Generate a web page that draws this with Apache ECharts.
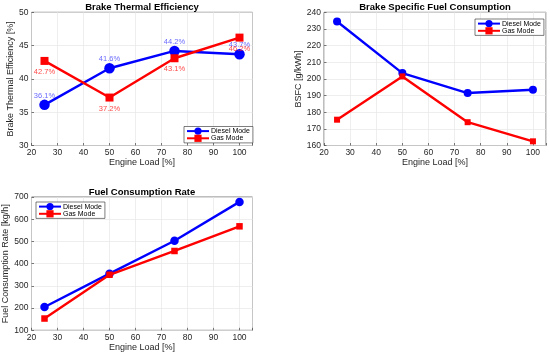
<!DOCTYPE html>
<html><head><meta charset="utf-8">
<script src="https://cdn.jsdelivr.net/npm/echarts@6/dist/echarts.min.js"></script>
<style>html,body{margin:0;padding:0;background:#fff}#c{width:550px;height:354px}</style>
</head><body><div id="c"></div>
<script>
const engineLoad = [25, 50, 75, 100];
const bteDiesel = [36.1, 41.6, 44.2, 43.7];
const bteGas = [42.7, 37.2, 43.1, 46.2];
const bsfcDiesel = [234.5, 203.5, 191.5, 193.5];
const bsfcGas = [175.5, 201.5, 174.0, 162.5];
const fcrDiesel = [205, 355, 503, 678];
const fcrGas = [153, 350, 457, 568];
const titles = ['Brake Thermal Efficiency', 'Brake Specific Fuel Consumption', 'Fuel Consumption Rate'];
const yNames = ['Brake Thermal Efficiency [%]', 'BSFC [g/kWh]', 'Fuel Consumption Rate [kg/h]'];
const xName = 'Engine Load [%]';
const seriesNames = ['Diesel Mode', 'Gas Mode'];

const FONT = 'Liberation Sans, Arial, sans-serif';
const AX = '#262626';
const grids = [
  {left: 31.5, top: 12.3, width: 221, height: 133.2},
  {left: 324, top: 12.3, width: 222, height: 133.2},
  {left: 31.5, top: 197, width: 221, height: 133.3}
];
const yCfg = [
  {min: 30, max: 50, interval: 5, gap: 15},
  {min: 160, max: 240, interval: 10, gap: 18},
  {min: 100, max: 700, interval: 100, gap: 17}
];
const pair = (xs, ys) => xs.map((x, i) => [x, ys[i]]);

const option = {
  animation: false,
  backgroundColor: '#fff',
  textStyle: {fontFamily: FONT},
  title: titles.map((t, i) => ({
    text: t,
    left: grids[i].left + grids[i].width / 2,
    top: grids[i].top - 10,
    padding: 0,
    textAlign: 'center',
    textStyle: {fontSize: 9.5, fontWeight: 'bold', color: '#000', fontFamily: FONT}
  })),
  grid: grids.map(g => Object.assign({show: true, borderColor: '#5a5a5a', borderWidth: 0.8, backgroundColor: '#fff'}, g)),
  xAxis: grids.map((g, i) => ({
    type: 'value', gridIndex: i, min: 20, max: 105, interval: 10,
    name: xName, nameLocation: 'middle', nameGap: 12.5,
    nameTextStyle: {fontSize: 9, color: AX, fontFamily: FONT},
    axisLine: {show: false},
    axisTick: {show: true, inside: true, length: 2.5, lineStyle: {color: AX, width: 0.6}},
    axisLabel: {fontSize: 8.5, color: AX, margin: 3, fontFamily: FONT,
      formatter: v => (v % 10 === 0 && v <= 100) ? String(v) : ''},
    splitLine: {show: true, lineStyle: {color: '#e6e6e6', width: 0.7}}
  })),
  yAxis: grids.map((g, i) => ({
    type: 'value', gridIndex: i, min: yCfg[i].min, max: yCfg[i].max, interval: yCfg[i].interval,
    name: yNames[i], nameLocation: 'middle', nameGap: yCfg[i].gap,
    nameTextStyle: {fontSize: 9, color: AX, fontFamily: FONT},
    axisLine: {show: false},
    axisTick: {show: true, inside: true, length: 2.5, lineStyle: {color: AX, width: 0.6}},
    axisLabel: {fontSize: 8.5, color: AX, margin: 3, fontFamily: FONT},
    splitLine: {show: true, lineStyle: {color: '#e6e6e6', width: 0.7}}
  })),
  legend: [
    {left: 184, top: 126.5},
    {left: 475, top: 19},
    {left: 36, top: 202}
  ].map((p, i) => Object.assign({
    orient: 'vertical', data: seriesNames.map(n => n + (i ? '#' + i : '')),
    formatter: n => n.split('#')[0],
    itemWidth: 22, itemHeight: 9, itemGap: 0, padding: [1, 3, 1, 2],
    backgroundColor: '#fff', borderColor: '#262626', borderWidth: 0.6,
    textStyle: {fontSize: 7, color: '#000', fontFamily: FONT, padding: [0, 0, 0, -3]}
  }, p)),
  series: []
};

const sets = [[bteDiesel, bteGas], [bsfcDiesel, bsfcGas], [fcrDiesel, fcrGas]];
const sym = [[10.5, 8], [8, 6], [8.5, 6.5]];
sets.forEach((s, i) => {
  s.forEach((vals, j) => {
    const color = j === 0 ? '#0000ff' : '#ff0000';
    const ser = {
      type: 'line', name: seriesNames[j] + (i ? '#' + i : ''),
      xAxisIndex: i, yAxisIndex: i,
      data: pair(engineLoad, vals),
      symbol: j === 0 ? 'circle' : 'rect',
      symbolSize: sym[i][j],
      lineStyle: {color: color, width: 2.4},
      itemStyle: {color: color},
      z: j === 0 ? 3 : 4
    };
    if (i === 0) {
      ser.label = {
        show: true,
        position: j === 0 ? 'top' : 'bottom',
        distance: j === 0 ? 0 : 3,
        fontSize: 7.5, fontFamily: FONT,
        color: j === 0 ? 'rgba(80,80,255,0.85)' : 'rgba(255,40,40,0.85)',
        formatter: p => p.value[1].toFixed(1) + '%'
      };
    }
    option.series.push(ser);
  });
});

const chart = echarts.init(document.getElementById('c'), null, {renderer: 'canvas'});
chart.setOption(option);
</script></body></html>
